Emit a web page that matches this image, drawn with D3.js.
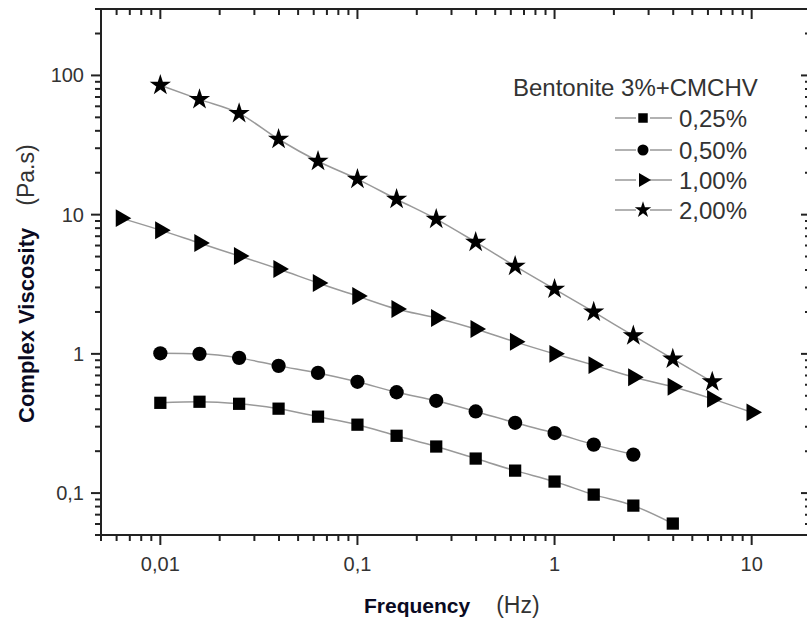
<!DOCTYPE html>
<html>
<head>
<meta charset="utf-8">
<script src="https://cdn.jsdelivr.net/npm/d3@7"></script>
<style>
  html, body { margin: 0; padding: 0; background: #fff; }
  svg { display: block; font-family: "Liberation Sans", Arial, sans-serif; }
</style>
</head>
<body>
<div id="chart"></div>
<script>
// DATA
const freqs = [0.00631, 0.01, 0.0158, 0.0251, 0.0398, 0.0631, 0.1, 0.158, 0.251, 0.398, 0.631, 1, 1.58, 2.51, 3.98, 6.31, 10];
const seriesNames = ["0,25%", "0,50%", "1,00%", "2,00%"];
// null = no point at that frequency
const visc025 = [null, 0.445, 0.453, 0.438, 0.404, 0.354, 0.31, 0.258, 0.216, 0.177, 0.145, 0.121, 0.0975, 0.0813, 0.0604, null, null];
const visc050 = [null, 1.01, 1.0, 0.936, 0.82, 0.73, 0.63, 0.53, 0.46, 0.386, 0.32, 0.27, 0.223, 0.189, null, null, null];
const visc100 = [9.44, 7.74, 6.25, 5.05, 4.07, 3.23, 2.6, 2.1, 1.81, 1.51, 1.22, 1.0, 0.83, 0.68, 0.58, 0.475, 0.38];
const visc200 = [null, 85, 67.3, 53.4, 34.8, 24.2, 18, 12.9, 9.29, 6.35, 4.27, 2.92, 2.0, 1.35, 0.92, 0.63, null];
const xTickVals = [0.01, 0.1, 1, 10];
const xTickLabels = ["0,01", "0,1", "1", "10"];
const yTickVals = [0.1, 1, 10, 100];
const yTickLabels = ["0,1", "1", "10", "100"];

const W = 807, H = 621;
const svg = d3.select("#chart").append("svg").attr("width", W).attr("height", H);

const x = d3.scaleLog().domain([0.005, 20]).range([101, 811]);
const y = d3.scaleLog().domain([0.05, 300]).range([535, 9]);

// minor ticks 2..9 for each decade
function minors(dom) {
  let out = [];
  for (let e = -4; e <= 4; e++) {
    for (let m = 2; m <= 9; m++) {
      const v = m * Math.pow(10, e);
      if (v >= dom[0] * 0.999 && v <= dom[1] * 1.001) out.push(v);
    }
  }
  return out;
}
const xMinor = minors(x.domain());
const yMinor = minors(y.domain());

const axisG = svg.append("g").attr("stroke", "#222").attr("stroke-width", 2);
// frame
axisG.append("rect")
  .attr("x", x.range()[0]).attr("y", y.range()[1])
  .attr("width", x.range()[1] - x.range()[0]).attr("height", y.range()[0] - y.range()[1])
  .attr("fill", "none");

const MAJ = 10, MIN = 6;
// bottom (outward)
axisG.selectAll(".bmaj").data(xTickVals).join("line").attr("class", "bmaj")
  .attr("x1", d => x(d)).attr("x2", d => x(d)).attr("y1", y.range()[0]).attr("y2", y.range()[0] + MAJ);
axisG.selectAll(".bmin").data(xMinor).join("line").attr("class", "bmin")
  .attr("x1", d => x(d)).attr("x2", d => x(d)).attr("y1", y.range()[0]).attr("y2", y.range()[0] + MIN);
// top (inward)
axisG.selectAll(".tmaj").data(xTickVals).join("line").attr("class", "tmaj")
  .attr("x1", d => x(d)).attr("x2", d => x(d)).attr("y1", y.range()[1]).attr("y2", y.range()[1] + MAJ);
axisG.selectAll(".tmin").data(xMinor).join("line").attr("class", "tmin")
  .attr("x1", d => x(d)).attr("x2", d => x(d)).attr("y1", y.range()[1]).attr("y2", y.range()[1] + MIN);
// left (outward)
axisG.selectAll(".lmaj").data(yTickVals).join("line").attr("class", "lmaj")
  .attr("y1", d => y(d)).attr("y2", d => y(d)).attr("x1", x.range()[0]).attr("x2", x.range()[0] - MAJ);
axisG.selectAll(".lmin").data(yMinor).join("line").attr("class", "lmin")
  .attr("y1", d => y(d)).attr("y2", d => y(d)).attr("x1", x.range()[0]).attr("x2", x.range()[0] - MIN);
// right (inward)
axisG.selectAll(".rmaj").data(yTickVals).join("line").attr("class", "rmaj")
  .attr("y1", d => y(d)).attr("y2", d => y(d)).attr("x1", x.range()[1]).attr("x2", x.range()[1] - MAJ);
axisG.selectAll(".rmin").data(yMinor).join("line").attr("class", "rmin")
  .attr("y1", d => y(d)).attr("y2", d => y(d)).attr("x1", x.range()[1]).attr("x2", x.range()[1] - MIN);

// tick labels
svg.append("g").selectAll("text").data(xTickVals).join("text")
  .attr("x", d => x(d)).attr("y", 571)
  .attr("text-anchor", "middle").attr("font-size", 20).attr("fill", "#333")
  .text((d, i) => xTickLabels[i]);
svg.append("g").selectAll("text").data(yTickVals).join("text")
  .attr("x", 84).attr("y", d => y(d) + 7)
  .attr("text-anchor", "end").attr("font-size", 20).attr("fill", "#333")
  .text((d, i) => yTickLabels[i]);

// axis titles
const yt = svg.append("text").attr("transform", "translate(34,423) rotate(-90)")
  .attr("font-size", 22);
yt.append("tspan").attr("font-weight", "bold").attr("fill", "#0a0a22").text("Complex Viscosity");
yt.append("tspan").attr("dx", 22).attr("fill", "#333").attr("font-size", 23).text("(Pa.s)");

const xt = svg.append("text").attr("x", 364).attr("y", 613).attr("font-size", 21);
xt.append("tspan").attr("font-weight", "bold").attr("fill", "#0a0a22").text("Frequency");
xt.append("tspan").attr("dx", 26).attr("fill", "#333").attr("font-size", 23).text("(Hz)");

// series
const allSeries = [visc025, visc050, visc100, visc200];
const symbols = [
  { type: d3.symbolSquare, size: 150, rot: 0 },
  { type: d3.symbolCircle, size: 160, rot: 0 },
  { type: d3.symbolTriangle, size: 140, rot: 90 },
  { type: d3.symbolStar, size: 140, rot: 0 }
];

const line = d3.line()
  .x(d => x(d.f)).y(d => y(d.v))
  .curve(d3.curveMonotoneX);

allSeries.forEach((vals, si) => {
  const pts = freqs.map((f, i) => ({ f: f, v: vals[i] })).filter(d => d.v != null);
  svg.append("path").datum(pts)
    .attr("d", line).attr("fill", "none")
    .attr("stroke", "#999").attr("stroke-width", 1.5);
  const s = symbols[si];
  svg.append("g").selectAll("path").data(pts).join("path")
    .attr("d", d3.symbol().type(s.type).size(s.size))
    .attr("transform", d => `translate(${x(d.f)},${y(d.v)}) rotate(${s.rot})`)
    .attr("fill", "#000");
});

// legend
const lg = svg.append("g");
lg.append("text").attr("x", 513).attr("y", 96).attr("font-size", 24).attr("fill", "#333")
  .text("Bentonite 3%+CMCHV");
const rowY = [118, 150, 180, 210];
seriesNames.forEach((name, i) => {
  const ry = rowY[i];
  lg.append("line").attr("x1", 615).attr("x2", 636).attr("y1", ry).attr("y2", ry)
    .attr("stroke", "#999").attr("stroke-width", 1.5);
  lg.append("line").attr("x1", 650).attr("x2", 672).attr("y1", ry).attr("y2", ry)
    .attr("stroke", "#999").attr("stroke-width", 1.5);
  const s = symbols[i];
  lg.append("path")
    .attr("d", d3.symbol().type(s.type).size(s.size * 0.6)())
    .attr("transform", `translate(643,${ry}) rotate(${s.rot})`)
    .attr("fill", "#000");
  lg.append("text").attr("x", 679).attr("y", ry + 9).attr("font-size", 24).attr("fill", "#333")
    .text(name);
});
</script>
</body>
</html>
